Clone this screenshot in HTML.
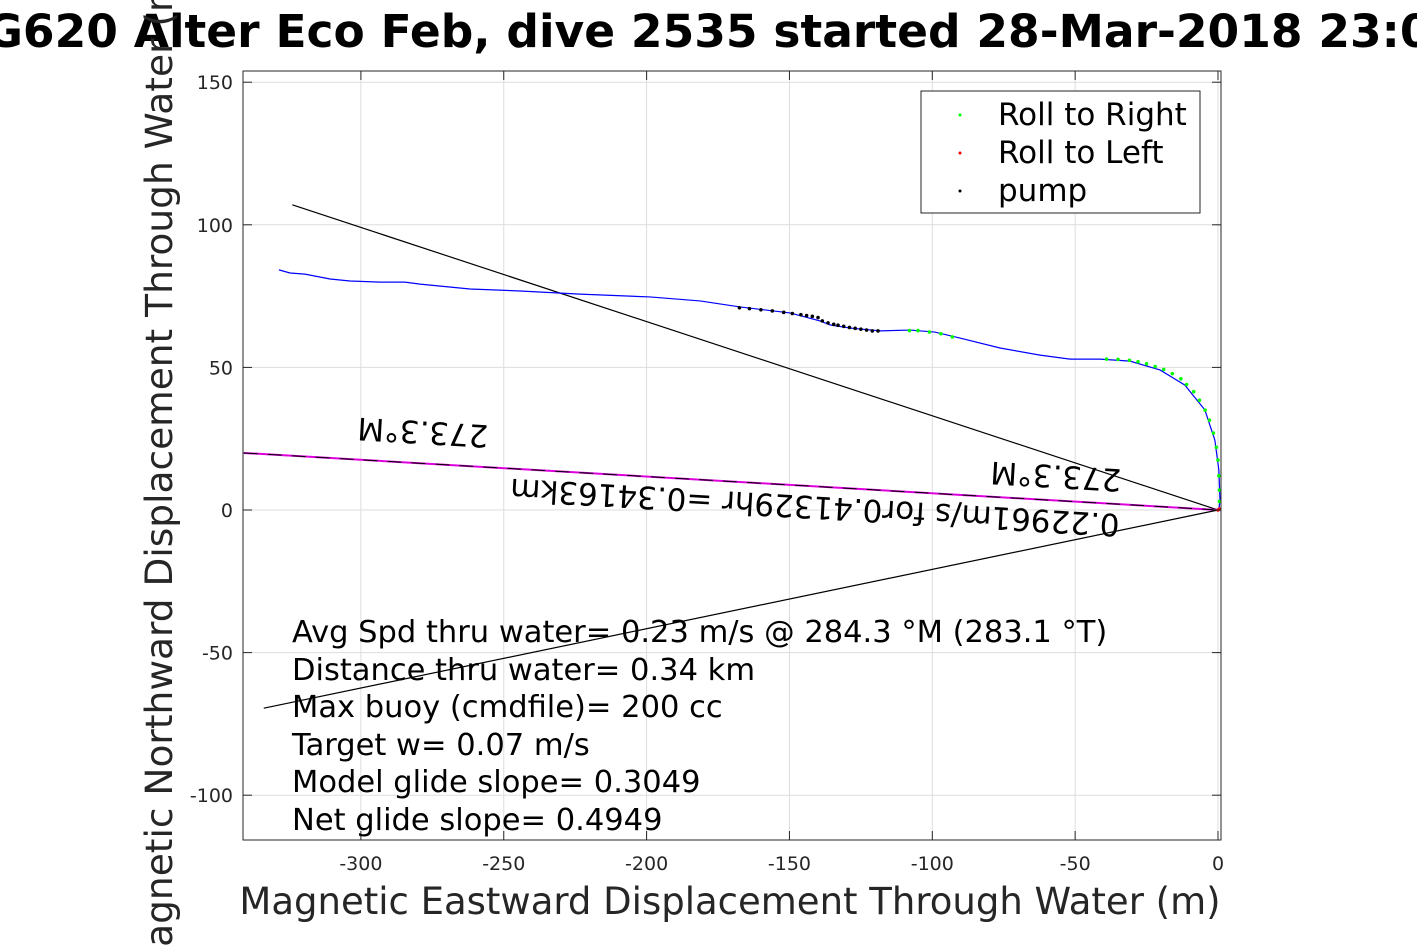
<!DOCTYPE html>
<html><head><meta charset="utf-8"><style>
body{margin:0;background:#fff;}
svg{font-family:"DejaVu Sans","Liberation Sans",sans-serif;}
</style></head><body>
<svg id="c" width="1417" height="945" xmlns="http://www.w3.org/2000/svg">
<rect width="1417" height="945" fill="#fff"/>
<g id="grid"></g>
<g id="plot"></g>
<rect x="243" y="71" width="978" height="769" fill="none" stroke="#262626" stroke-width="1"/>
<g id="ticks" font-size="19" fill="#262626"></g>
<text x="708" y="47" text-anchor="middle" font-size="45.5" font-weight="bold">SG620 Alter Eco Feb, dive 2535 started 28-Mar-2018 23:07</text>
<text x="730" y="914" text-anchor="middle" font-size="37" fill="#262626">Magnetic Eastward Displacement Through Water (m)</text>
<text transform="translate(172,470) rotate(-90)" text-anchor="middle" font-size="37.5" fill="#262626">Magnetic Northward Displacement Through Water (m)</text>
<g font-size="30.5" style="white-space:pre">
<text x="292" y="642">Avg Spd thru water=  0.23 m/s @ 284.3 °M (283.1 °T)</text>
<text x="292" y="680">Distance thru water=  0.34 km</text>
<text x="292" y="717">Max buoy (cmdfile)= 200 cc</text>
<text x="292" y="755">Target w= 0.07 m/s</text>
<text x="292" y="792">Model glide slope= 0.3049</text>
<text x="292" y="830">Net glide slope= 0.4949</text>
</g>
<g font-size="31">
<text transform="translate(423,430) rotate(183.35)" text-anchor="middle" dominant-baseline="middle">273.3°M</text>
<text transform="translate(1056,474) rotate(183.35)" text-anchor="middle" dominant-baseline="middle">273.3°M</text>
<text transform="translate(815,505) rotate(183.35)" text-anchor="middle" dominant-baseline="middle">0.22961m/s for0.41329hr =0.34163km</text>
</g>
<g>
<rect x="921" y="91" width="279" height="122" fill="#fff" stroke="#262626"/>
<circle cx="960" cy="115" r="1.5" fill="#0f0"/><text x="998" y="125" font-size="31">Roll to Right</text>
<circle cx="960" cy="153" r="1.5" fill="red"/><text x="998" y="163" font-size="31">Roll to Left</text>
<circle cx="960" cy="191" r="1.5" fill="#000"/><text x="998" y="201" font-size="31">pump</text>
</g>
</svg>
<script>
const xTicks=[-300,-250,-200,-150,-100,-50,0];
const yTicks=[150,100,50,0,-50,-100];
const trackX=[-328.7,-324.8,-319.6,-310.8,-303.8,-293.3,-284.6,-279.3,-261.8,-244.3,-223.3,-198.8,-181.3,-167.3,-149.8,-139.3,-135.8,-128.8,-118.3,-107.8,-99.1,-90.3,-76.3,-62.3,-51.8,-41.3,-30.8,-20.3,-11.6,-4.6,-1.1,0.3,0.7,0.3];
const trackY=[84.2,83.1,82.7,81.0,80.3,79.9,79.9,79.2,77.5,76.8,75.7,74.7,73.3,71.2,69.1,66.3,64.9,63.8,62.8,63.1,62.4,60.3,56.8,54.3,52.9,52.9,52.2,49.1,43.8,35.1,24.5,14.0,3.5,0];
const pumpX=[-167.5,-164,-160,-156,-152,-149,-146,-144,-142,-140,-138.5,-136.5,-134.5,-133,-131,-129,-127,-125,-123,-121,-119];
const pumpY=[70.9,70.6,70.2,69.8,69.3,68.9,68.5,68.2,67.9,67.5,66.3,65.6,65.1,64.8,64.4,64.0,63.7,63.4,63.1,62.8,62.8];
const rightX=[-108,-105,-101,-97,-93,-39,-35,-31,-28,-25,-22,-19,-16,-13,-11,-8.5,-6.5,-4.5,-3,-1.6,-0.6,0,0.3,0.5,0.5];
const rightY=[62.9,62.9,62.4,61.8,60.7,52.9,52.8,52.5,52.0,51.3,50.3,49.3,47.8,46.0,44.0,41.5,38.5,35.0,31.5,27.0,22.0,17.5,12.0,7.0,3.0];
const leftX=[0,0.5];
const leftY=[0,0.3];
const refLines=[[-324,107],[-341,20],[-334,-69.5]];
const X=v=>1218+v*2.857, Y=v=>510-v*2.852;
const NS="http://www.w3.org/2000/svg";
function mk(t,a,p){const e=document.createElementNS(NS,t);for(const k in a)e.setAttribute(k,a[k]);p.appendChild(e);return e;}
const grid=document.getElementById('grid'),plot=document.getElementById('plot'),ticks=document.getElementById('ticks');
xTicks.forEach(v=>{
 const l=mk('line',{x1:X(v),x2:X(v),y1:71,y2:840,stroke:'#ddd'},grid);
 
 
 mk('line',{x1:X(v),x2:X(v),y1:840,y2:831,stroke:'#262626'},ticks);
 mk('line',{x1:X(v),x2:X(v),y1:71,y2:80,stroke:'#262626'},ticks);
 const t=mk('text',{x:X(v),y:870,'text-anchor':'middle'},ticks);t.textContent=v;
 
 
});
yTicks.forEach(v=>{
 const l=mk('line',{x1:243,x2:1221,y1:Y(v),y2:Y(v),stroke:'#ddd'},grid);
 
 
 mk('line',{x1:243,x2:252,y1:Y(v),y2:Y(v),stroke:'#262626'},ticks);
 mk('line',{x1:1221,x2:1212,y1:Y(v),y2:Y(v),stroke:'#262626'},ticks);
 const t=mk('text',{x:233,y:Y(v)+7,'text-anchor':'end'},ticks);t.textContent=v;
 
 
});
refLines.forEach((p,i)=>{
 const l=mk('line',{x1:X(p[0]),y1:Y(p[1]),x2:X(0),y2:Y(0),stroke:i==1?'#d0d':'#000','stroke-width':i==1?2:1.2},plot);
 
 
 if(i==1){mk('line',{x1:X(p[0]),y1:Y(p[1]),x2:X(0),y2:Y(0),stroke:'#000','stroke-width':1,'stroke-dasharray':'14 10'},plot);}
});
const tr=mk('polyline',{points:trackX.map((x,i)=>X(x)+','+Y(trackY[i])).join(' '),fill:'none',stroke:'#00f','stroke-width':1.2},plot);


function dots(xs,ys,c,name){xs.forEach((x,i)=>{const d=mk('circle',{cx:X(x),cy:Y(ys[i]),r:1.8,fill:c},plot);
 
 });}
dots(pumpX,pumpY,'#000','pump-point');
dots(rightX,rightY,'#0f0','roll-right-point');
dots(leftX,leftY,'#f00','roll-left-point');
</script>
</body></html>
